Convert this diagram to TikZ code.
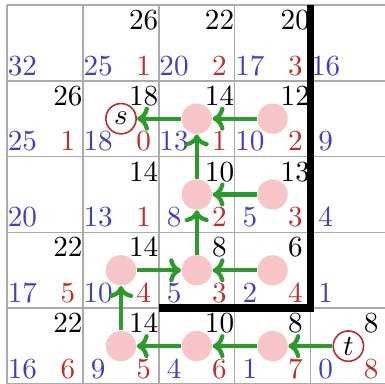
\documentclass[tikz,border=0pt]{standalone}
\usetikzlibrary{arrows.meta}
\begin{document}
\begin{tikzpicture}[x=1cm,y=1cm,
  every node/.style={font=\fontsize{11}{13}\selectfont},
  fval/.style={text=black,inner sep=0pt},
  hval/.style={text=hblue,inner sep=0pt},
  gval/.style={text=gred,inner sep=0pt},
  visited/.style={circle,fill=visitpink,minimum size=0.4cm,inner sep=0pt},
  endpt/.style={circle,draw=gred,fill=white,line width=0.6pt,minimum size=0.4cm,inner sep=0pt},
  pathstep/.style={pathgreen,line width=1.6pt,-{To[length=4.5pt,width=9pt]}}]
\definecolor{hblue}{RGB}{64,64,190}
\definecolor{gred}{RGB}{190,45,45}
\definecolor{pathgreen}{RGB}{46,154,46}
\definecolor{visitpink}{RGB}{248,198,200}
\colorlet{gridgray}{black!33}

\useasboundingbox (-0.096,0.013) rectangle (4.983,5.066);

\draw[gridgray,line width=0.6pt] (0,0) grid (5,5);
\draw[black,line width=2.8pt] (2,1) -- (4,1) -- (4,5);

\foreach \c/\r/\v in {1/4/26,2/4/22,3/4/20,
    0/3/26,1/3/18,2/3/14,3/3/12,
    1/2/14,2/2/10,3/2/13,
    0/1/22,1/1/14,2/1/8,3/1/6,
    0/0/22,1/0/14,2/0/10,3/0/8,4/0/8} {
  \node[fval] (f\c\r) at (\c+0.8,\r+0.8) {$\v$};
}
\foreach \c/\r/\v in {0/4/32,1/4/25,2/4/20,3/4/17,4/4/16,
    0/3/25,1/3/18,2/3/13,3/3/10,4/3/9,
    0/2/20,1/2/13,2/2/8,3/2/5,4/2/4,
    0/1/17,1/1/10,2/1/5,3/1/2,4/1/1,
    0/0/16,1/0/9,2/0/4,3/0/1,4/0/0} {
  \node[hval] (h\c\r) at (\c+0.2,\r+0.2) {$\v$};
}
\foreach \c/\r/\v in {1/4/1,2/4/2,3/4/3,
    0/3/1,1/3/0,2/3/1,3/3/2,
    1/2/1,2/2/2,3/2/3,
    0/1/5,1/1/4,2/1/3,3/1/4,
    0/0/6,1/0/5,2/0/6,3/0/7,4/0/8} {
  \node[gval] (g\c\r) at (\c+0.8,\r+0.2) {$\v$};
}

\foreach \c/\r in {2/3,3/3,2/2,3/2,1/1,2/1,3/1,1/0,2/0,3/0} {
  \node[visited] (v\c\r) at (\c+0.5,\r+0.5) {};
}
\node[endpt] (s) at (1.5,3.5) {$s$};
\node[endpt] (t) at (4.5,0.5) {$t$};

\draw[pathstep] (t) -- (v30);
\draw[pathstep] (v30) -- (v20);
\draw[pathstep] (v20) -- (v10);
\draw[pathstep] (v10) -- (v11);
\draw[pathstep] (v11) -- (v21);
\draw[pathstep] (v31) -- (v21);
\draw[pathstep] (v21) -- (v22);
\draw[pathstep] (v32) -- (v22);
\draw[pathstep] (v22) -- (v23);
\draw[pathstep] (v33) -- (v23);
\draw[pathstep] (v23) -- (s);
\end{tikzpicture}
\end{document}
